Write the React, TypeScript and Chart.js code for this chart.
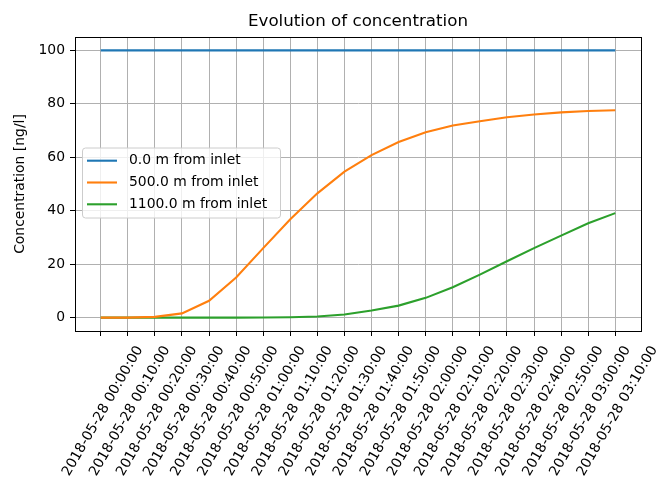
import React, { useEffect, useRef } from "react";
import { Chart, registerables } from "chart.js";

Chart.register(...registerables);

// ---- data ----
const timeLabels: string[] = [
  "2018-05-28 00:00:00",
  "2018-05-28 00:10:00",
  "2018-05-28 00:20:00",
  "2018-05-28 00:30:00",
  "2018-05-28 00:40:00",
  "2018-05-28 00:50:00",
  "2018-05-28 01:00:00",
  "2018-05-28 01:10:00",
  "2018-05-28 01:20:00",
  "2018-05-28 01:30:00",
  "2018-05-28 01:40:00",
  "2018-05-28 01:50:00",
  "2018-05-28 02:00:00",
  "2018-05-28 02:10:00",
  "2018-05-28 02:20:00",
  "2018-05-28 02:30:00",
  "2018-05-28 02:40:00",
  "2018-05-28 02:50:00",
  "2018-05-28 03:00:00",
  "2018-05-28 03:10:00",
];

const conc0m: number[] = [
  100, 100, 100, 100, 100, 100, 100, 100, 100, 100,
  100, 100, 100, 100, 100, 100, 100, 100, 100, 100,
];

const conc500m: number[] = [
  0, 0, 0.3, 1.6, 6.3, 15.0, 26.0, 36.8, 46.5, 54.6,
  60.8, 65.7, 69.4, 71.9, 73.5, 75.0, 76.0, 76.8, 77.3, 77.6,
];

const conc1100m: number[] = [
  0, 0, 0, 0, 0, 0, 0.05, 0.15, 0.4, 1.2,
  2.7, 4.5, 7.4, 11.4, 16.1, 21.1, 26.0, 30.7, 35.3, 39.1,
];

const seriesLabels: string[] = [
  "0.0 m from inlet",
  "500.0 m from inlet",
  "1100.0 m from inlet",
];

const yTickValues: number[] = [0, 20, 40, 60, 80, 100];

const chartTitle = "Evolution of concentration";
const yAxisTitle = "Concentration [ng/l]";

// ---- derived ----
const t0 = Date.parse(timeLabels[0].replace(" ", "T"));
const minutes = timeLabels.map((s) => (Date.parse(s.replace(" ", "T")) - t0) / 60000);
const xSpan = minutes[minutes.length - 1] - minutes[0];
const xMin = minutes[0] - 0.05 * xSpan;
const xMax = minutes[minutes.length - 1] + 0.05 * xSpan;
const ySpan = yTickValues[yTickValues.length - 1] - yTickValues[0];
const yMin = yTickValues[0] - 0.05 * ySpan;
const yMax = yTickValues[yTickValues.length - 1] + 0.05 * ySpan;

const COLORS = ["#1f77b4", "#ff7f0e", "#2ca02c"];
const FONT = "DejaVu Sans";

const toPoints = (vals: number[]) => vals.map((v, i) => ({ x: minutes[i], y: v }));

const framePlugin = {
  id: "frame",
  afterDatasetsDraw(chart: any) {
    const { ctx, chartArea } = chart;
    ctx.save();
    ctx.strokeStyle = "#000";
    ctx.lineWidth = 1;
    ctx.strokeRect(
      Math.round(chartArea.left) + 0.5,
      Math.round(chartArea.top) + 0.5,
      Math.round(chartArea.right - chartArea.left),
      Math.round(chartArea.bottom - chartArea.top)
    );
    ctx.restore();
  },
};

const legendPlugin = {
  id: "mplLegend",
  afterDraw(chart: any) {
    const { ctx, chartArea } = chart;
    const x0 = chartArea.left + 7.5;
    const y0 = chartArea.top + 111;
    const w = 198;
    const h = 70;
    const r = 3;
    ctx.save();
    ctx.beginPath();
    ctx.moveTo(x0 + r, y0);
    ctx.lineTo(x0 + w - r, y0);
    ctx.quadraticCurveTo(x0 + w, y0, x0 + w, y0 + r);
    ctx.lineTo(x0 + w, y0 + h - r);
    ctx.quadraticCurveTo(x0 + w, y0 + h, x0 + w - r, y0 + h);
    ctx.lineTo(x0 + r, y0 + h);
    ctx.quadraticCurveTo(x0, y0 + h, x0, y0 + h - r);
    ctx.lineTo(x0, y0 + r);
    ctx.quadraticCurveTo(x0, y0, x0 + r, y0);
    ctx.closePath();
    ctx.fillStyle = "rgba(255,255,255,0.8)";
    ctx.fill();
    ctx.strokeStyle = "#cccccc";
    ctx.lineWidth = 1;
    ctx.stroke();

    ctx.font = `13.9px "${FONT}"`;
    ctx.textBaseline = "middle";
    ctx.textAlign = "left";
    chart.data.datasets.forEach((ds: any, i: number) => {
      const y = y0 + 12.7 + i * 21.8;
      ctx.beginPath();
      ctx.strokeStyle = ds.borderColor;
      ctx.lineWidth = 2.1;
      ctx.moveTo(x0 + 4.5, y);
      ctx.lineTo(x0 + 34.5, y);
      ctx.stroke();
      ctx.fillStyle = "#000";
      ctx.fillText(ds.label, x0 + 46.5, y);
    });
    ctx.restore();
  },
};

export default function App() {
  const canvasRef = useRef<HTMLCanvasElement | null>(null);

  useEffect(() => {
    if (!canvasRef.current) return;
    const seriesValues = [conc0m, conc500m, conc1100m];
    const chart = new Chart(canvasRef.current, {
      type: "line",
      data: {
        datasets: seriesValues.map((vals, i) => ({
          label: seriesLabels[i],
          data: toPoints(vals),
          borderColor: COLORS[i],
          backgroundColor: COLORS[i],
          borderWidth: 2.1,
          pointRadius: 0,
          tension: 0,
          fill: false,
        })),
      },
      options: {
        animation: false,
        responsive: false,
        events: [],
        layout: { padding: { left: 0, right: 15, top: 0, bottom: 0 } },
        plugins: {
          legend: { display: false },
          tooltip: { enabled: false },
          title: {
            display: true,
            text: chartTitle,
            fullSize: false,
            color: "#000",
            font: { family: FONT, size: 16.7, weight: "normal", lineHeight: 1.2 },
            padding: { top: 11.9, bottom: 5.06 },
          },
        },
        scales: {
          x: {
            type: "linear",
            min: xMin,
            max: xMax,
            afterBuildTicks: (scale: any) => {
              scale.ticks = minutes.map((m) => ({ value: m }));
            },
            afterFit: (scale: any) => {
              scale.height = 153;
            },
            ticks: {
              autoSkip: false,
              minRotation: 60,
              maxRotation: 60,
              labelOffset: 39,
              padding: 7,
              color: "#000",
              font: { family: FONT, size: 13.9 },
              callback: (_v: any, i: number) => timeLabels[i],
            },
            grid: {
              color: "#b0b0b0",
              lineWidth: 1,
              tickLength: 5,
              tickColor: "#000",
              tickWidth: 1,
            },
            border: { color: "#000", width: 1 },
          },
          y: {
            type: "linear",
            min: yMin,
            max: yMax,
            afterBuildTicks: (scale: any) => {
              scale.ticks = yTickValues.map((v) => ({ value: v }));
            },
            afterFit: (scale: any) => {
              scale.width = 75;
            },
            ticks: {
              padding: 5,
              color: "#000",
              font: { family: FONT, size: 13.9 },
            },
            grid: {
              color: "#b0b0b0",
              lineWidth: 1,
              tickLength: 5,
              tickColor: "#000",
              tickWidth: 1,
            },
            border: { color: "#000", width: 1 },
            title: {
              display: true,
              text: yAxisTitle,
              color: "#000",
              font: { family: FONT, size: 13.9, lineHeight: 1.2 },
              padding: { top: 11.7, bottom: 0 },
            },
          },
        },
      },
      plugins: [framePlugin, legendPlugin],
    });
    return () => chart.destroy();
  }, []);

  return (
    <div style={{ position: "fixed", left: 0, top: 0, width: 656, height: 484, background: "#fff" }}>
      <canvas ref={canvasRef} width={656} height={484} style={{ display: "block" }} />
    </div>
  );
}
